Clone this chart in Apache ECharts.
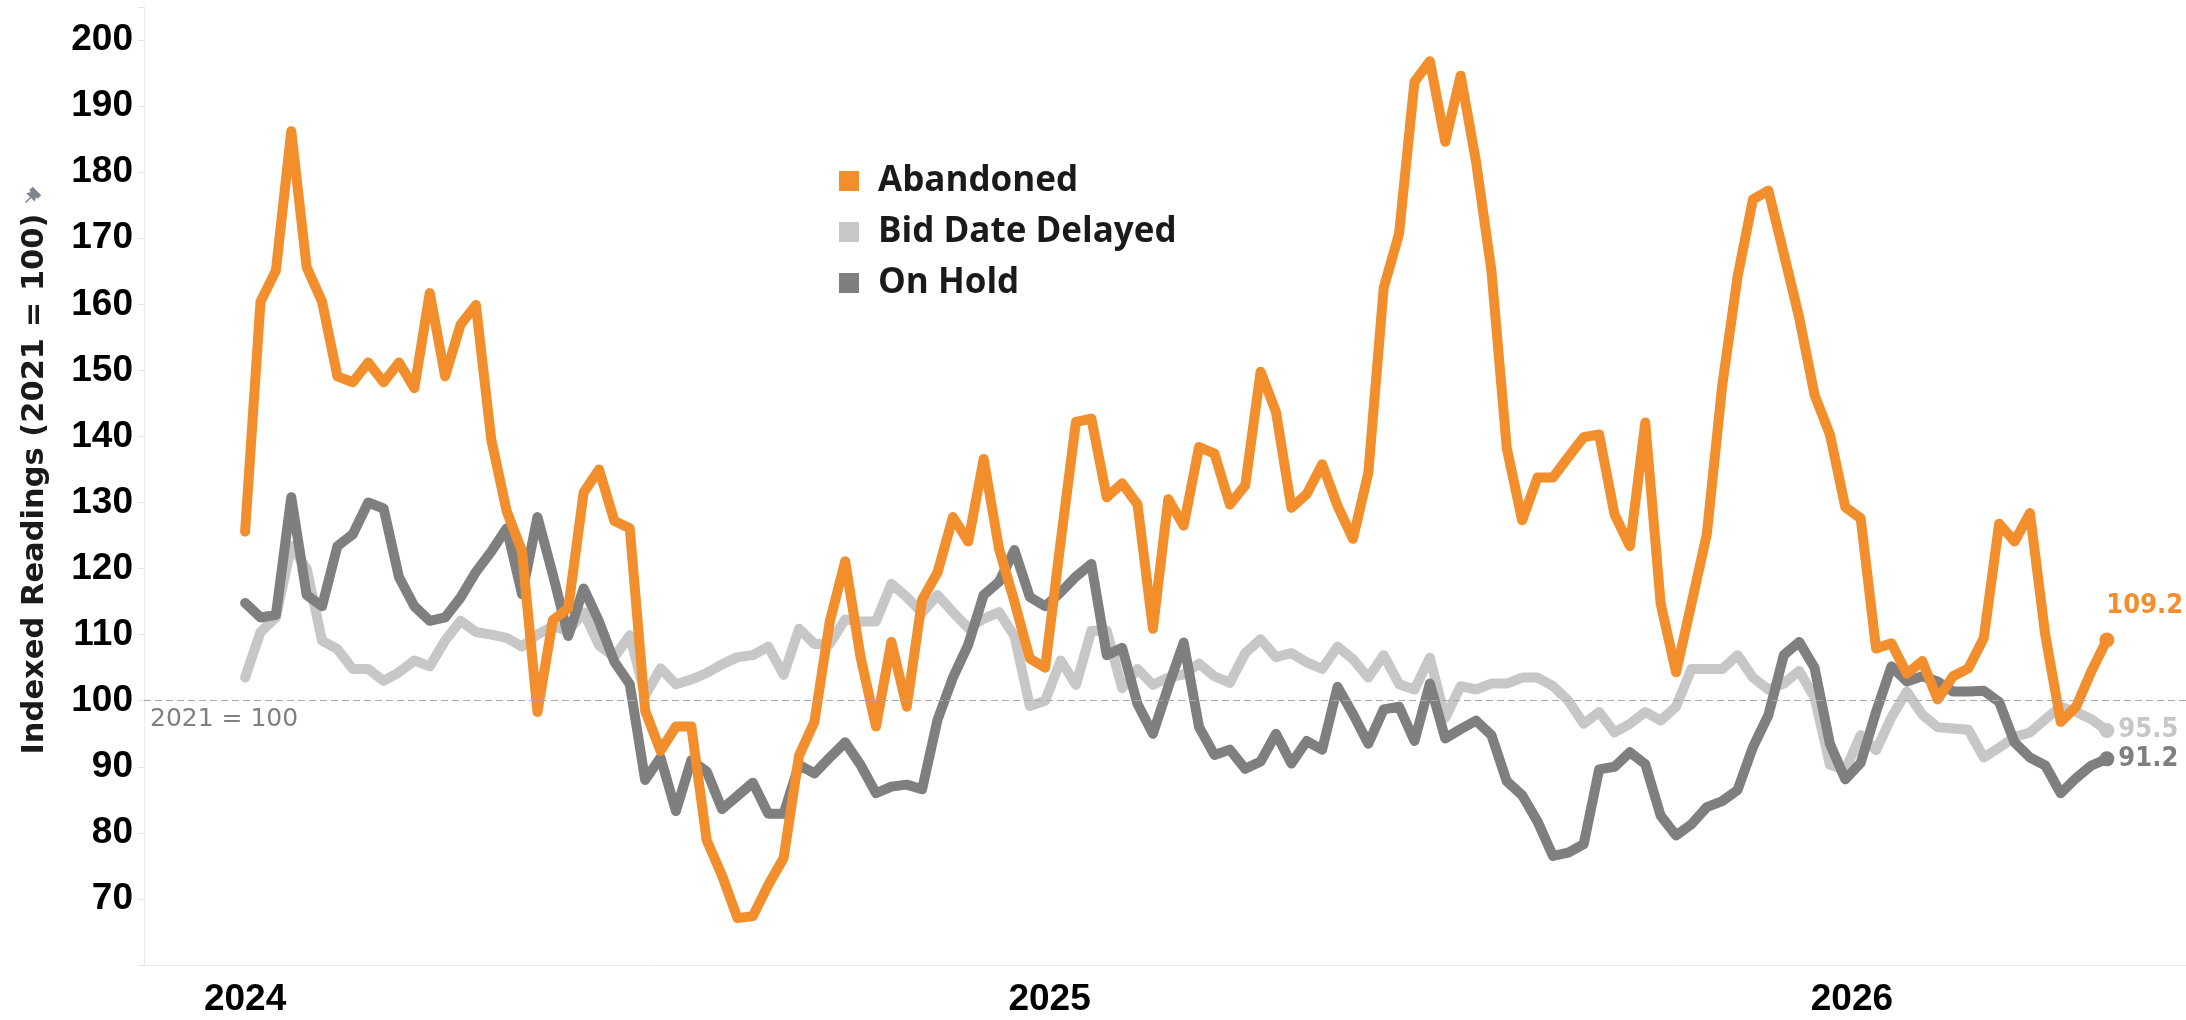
<!DOCTYPE html>
<html>
<head>
<meta charset="utf-8">
<title>Indexed Readings</title>
<script src="https://cdn.jsdelivr.net/npm/echarts@6.0.0/dist/echarts.min.js"></script>
<style>
  html, body { margin: 0; padding: 0; background: #fff; }
  #chart { width: 2186px; height: 1020px; }
</style>
</head>
<body>
<div id="chart"></div>
<script>
// weekly readings, first week starts 2024-01-01
const startDate = '2024-01-01';
const seriesNames = ['Abandoned', 'Bid Date Delayed', 'On Hold'];
const yearTicks = ['2024-01-01', '2025-01-01', '2026-01-01'];
const yAxisTitle = 'Indexed Readings (2021 = 100)';

const abandoned = [
  125.6, 160.4, 165.1, 186.2, 165.6, 160.4, 149.1, 148.2, 151.2, 148.2,
  151.2, 147.3, 161.7, 149.1, 156.9, 159.9, 139.5, 128.7, 122.6, 98.3,
  112.2, 114.0, 131.5, 135.0, 127.2, 126.1, 98.5, 92.4, 96.1, 96.1,
  78.9, 73.5, 67.1, 67.4, 72.1, 76.2, 91.7, 96.8, 112.0, 121.1,
  106.6, 96.1, 108.9, 99.1, 115.3, 119.4, 127.8, 124.1, 136.6, 123.0,
  115.0, 106.4, 105.0, 124.0, 142.2, 142.7, 130.8, 132.9, 129.7, 110.9,
  130.5, 126.5, 138.4, 137.4, 129.7, 132.6, 149.8, 143.7, 129.2, 131.3,
  135.8, 129.5, 124.5, 134.5, 162.5, 170.7, 193.7, 196.8, 184.6, 194.6,
  181.6, 165.1, 138.2, 127.3, 133.8, 133.8, 136.9, 139.9, 140.3, 128.2,
  123.4, 142.1, 114.7, 104.3, 114.7, 125.2, 147.7, 164.2, 175.9, 177.2,
  167.7, 158.0, 146.3, 140.3, 129.3, 127.6, 107.9, 108.7, 104.1, 106.0,
  100.2, 103.7, 104.9, 109.5, 126.8, 124.1, 128.4, 109.9, 96.8, 99.1,
  104.5, 109.2
];

const bidDateDelayed = [
  103.5, 110.4, 112.6, 123.4, 120.0, 109.1, 107.8, 104.8, 104.8, 103.0,
  104.3, 106.1, 105.2, 109.1, 112.1, 110.4, 110.0, 109.5, 108.2, 110.0,
  111.3, 110.5, 113.4, 108.4, 106.6, 109.9, 100.8, 104.9, 102.5, 103.2,
  104.2, 105.5, 106.6, 106.9, 108.2, 103.9, 110.9, 108.6, 108.6, 112.3,
  112.0, 112.0, 117.7, 115.7, 113.3, 116.0, 113.4, 111.0, 112.4, 113.4,
  109.8, 99.2, 100.0, 106.1, 102.4, 110.6, 110.6, 101.9, 104.8, 102.4,
  103.5, 104.0, 105.6, 103.7, 102.7, 107.2, 109.3, 106.6, 107.2, 105.8,
  104.8, 108.2, 106.3, 103.5, 106.9, 102.5, 101.7, 106.5, 97.4, 102.2,
  101.7, 102.6, 102.6, 103.5, 103.5, 102.2, 100.0, 96.5, 98.3, 95.2,
  96.5, 98.3, 97.0, 99.1, 104.8, 104.8, 104.8, 106.9, 103.5, 101.7,
  102.6, 104.5, 100.5, 90.3, 89.5, 94.8, 92.5, 97.5, 101.4, 97.9,
  96.0, 95.8, 95.6, 91.4, 92.9, 94.5, 95.2, 97.2, 99.1, 98.3,
  97.2, 95.5
];

const onHold = [
  114.8, 112.6, 113.0, 130.8, 116.0, 114.3, 123.4, 125.2, 130.0, 129.1,
  118.7, 114.3, 112.1, 112.6, 115.6, 119.5, 122.6, 126.1, 116.1, 127.8,
  119.1, 109.8, 117.0, 112.0, 105.9, 102.5, 88.0, 91.4, 83.3, 91.0,
  89.3, 83.6, 85.6, 87.6, 82.9, 82.9, 90.3, 89.0, 91.4, 93.7,
  90.3, 86.0, 87.0, 87.3, 86.6, 97.1, 103.5, 108.5, 116.0, 118.0,
  122.8, 115.7, 114.3, 116.4, 118.8, 120.7, 106.9, 108.0, 99.5, 95.0,
  102.1, 108.8, 96.0, 91.8, 92.6, 89.7, 90.8, 95.0, 90.5, 93.9,
  92.6, 102.1, 98.0, 93.5, 98.7, 99.1, 93.9, 102.6, 94.3, 95.7,
  97.0, 94.8, 87.8, 85.7, 81.7, 76.5, 77.0, 78.3, 89.6, 90.0,
  92.2, 90.4, 82.6, 79.6, 81.3, 83.9, 84.8, 86.5, 93.0, 97.8,
  106.9, 108.9, 105.0, 93.5, 88.1, 90.6, 98.3, 105.2, 102.9, 103.7,
  102.9, 101.4, 101.4, 101.5, 99.8, 93.7, 91.4, 90.2, 86.0, 88.3,
  90.2, 91.2
];

const COLORS = {
  abandoned: '#F28E2B',
  bid: '#C7C7C7',
  hold: '#7F7F7F'
};

const DAY = 86400000;
const weekDates = abandoned.map((_, i) => Date.parse(startDate) + i * 7 * DAY);

function makeSeries(name, values, color, z, labelOffset) {
  const last = values.length - 1;
  return {
    name: name,
    type: 'line',
    z: z,
    data: values.map((v, i) => {
      if (i !== last) return [weekDates[i], v];
      return {
        value: [weekDates[i], v],
        label: {
          show: true,
          position: 'right',
          distance: 4,
          offset: labelOffset,
          formatter: v.toFixed(1),
          color: color,
          fontFamily: "'DejaVu Sans Condensed', 'DejaVu Sans', sans-serif",
          fontWeight: 'bold',
          fontSize: 27
        }
      };
    }),
    symbol: 'circle',
    symbolSize: (val, params) => params.dataIndex === last ? 15 : 0,
    showAllSymbol: true,
    lineStyle: { width: 10, color: color, cap: 'round', join: 'round' },
    itemStyle: { color: color },
    emphasis: { disabled: true },
    animation: false
  };
}

const bidSeries = makeSeries(seriesNames[1], bidDateDelayed, COLORS.bid, 2, [0, 0]);
bidSeries.markLine = {
  silent: true,
  symbol: 'none',
  animation: false,
  lineStyle: { color: '#a9a9a9', width: 1, type: [7, 4] },
  label: {
    show: true,
    position: 'insideStartBottom',
    distance: [6, 6],
    formatter: '2021 = 100',
    color: '#808080',
    fontFamily: 'DejaVu Sans',
    fontSize: 25
  },
  data: [{ yAxis: 100 }]
};

const option = {
  animation: false,
  backgroundColor: '#fff',
  grid: { left: 144, right: 0, top: 7, bottom: 55, outerBoundsMode: 'none' },
  legend: {
    data: seriesNames,
    orient: 'vertical',
    left: 839,
    top: 161,
    padding: 0,
    icon: 'rect',
    itemWidth: 20,
    itemHeight: 20,
    itemGap: 11,
    selectedMode: false,
    textStyle: {
      fontFamily: "'Open Sans', sans-serif",
      fontWeight: 'bold',
      fontSize: 35,
      lineHeight: 40,
      color: '#1a1a1a',
      padding: [0, 0, 0, 14]
    }
  },
  xAxis: {
    // time values on a plain value axis, labels only at the year starts
    type: 'value',
    min: Date.parse('2023-11-16'),
    max: Date.parse('2026-06-02'),
    axisLine: { show: true, lineStyle: { color: '#e8e8e8', width: 1 } },
    axisTick: { show: false },
    splitLine: { show: false },
    axisLabel: {
      customValues: yearTicks.map(d => Date.parse(d)),
      formatter: v => String(new Date(v).getUTCFullYear()),
      color: '#000',
      fontFamily: "'Liberation Sans', Arial, sans-serif",
      fontWeight: 'bold',
      fontSize: 37,
      margin: 16
    }
  },
  yAxis: {
    type: 'value',
    min: 60,
    max: 205,
    interval: 10,
    axisLine: { show: true, lineStyle: { color: '#ebebeb', width: 1 } },
    axisTick: { show: true, length: 6, lineStyle: { color: '#e3e3e3' } },
    splitLine: { show: false },
    axisLabel: {
      formatter: v => (v >= 70 && v <= 200 && v % 10 === 0) ? String(v) : '',
      color: '#000',
      fontFamily: "'Liberation Sans', Arial, sans-serif",
      fontWeight: 'bold',
      fontSize: 37,
      margin: 11
    }
  },
  graphic: [
    {
      type: 'text',
      x: 35,
      y: 484,
      rotation: Math.PI / 2,
      silent: true,
      style: {
        text: yAxisTitle,
        fill: '#1a1a1a',
        fontFamily: "'DejaVu Sans', sans-serif",
        fontWeight: 'bold',
        fontSize: 30.5,
        align: 'center',
        verticalAlign: 'middle'
      }
    },
    {
      // small pin mark next to the axis title
      type: 'group',
      x: 32,
      y: 196,
      rotation: -Math.PI / 4,
      silent: true,
      children: [
        { type: 'rect', shape: { x: -6, y: -7, width: 12, height: 5 }, style: { fill: '#7d8590' } },
        { type: 'polygon', shape: { points: [[-3, -3], [3, -3], [6, 2], [-6, 2]] }, style: { fill: '#7d8590' } },
        { type: 'line', shape: { x1: 0, y1: 2, x2: 0, y2: 9 }, style: { stroke: '#7d8590', lineWidth: 1.5 } }
      ]
    }
  ],
  series: [
    bidSeries,
    makeSeries(seriesNames[2], onHold, COLORS.hold, 3, [0, 0]),
    makeSeries(seriesNames[0], abandoned, COLORS.abandoned, 4, [-12, -34])
  ]
};

const chart = echarts.init(document.getElementById('chart'), null, { renderer: 'canvas' });
chart.setOption(option);
</script>
</body>
</html>
